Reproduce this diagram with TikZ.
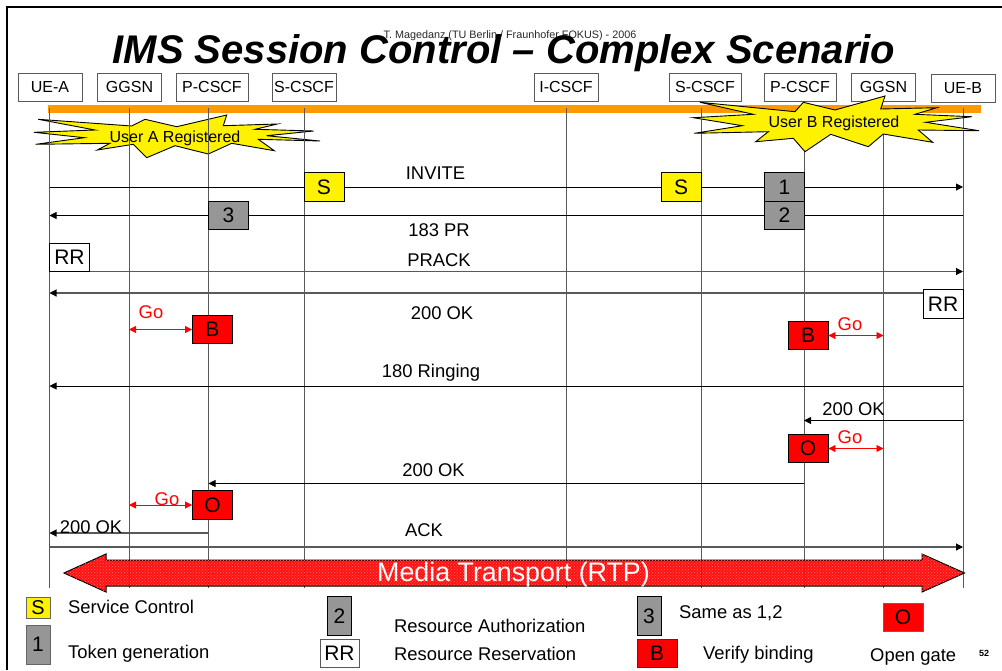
\documentclass[tikz,border=0pt]{standalone}
\usepackage{fontspec}
\setmainfont{Liberation Sans}
\usetikzlibrary{arrows.meta,patterns}
\definecolor{barorange}{RGB}{255,153,0}
\definecolor{boxgray}{RGB}{150,150,150}
\tikzset{
    head/.style={draw=black!65,fill=white,line width=0.9pt,inner sep=0pt,minimum height=28pt,font=\fontsize{16}{18}\selectfont},
    mark box/.style={draw=black,line width=0.9pt,inner sep=0pt,minimum width=40pt,minimum height=28.5pt,font=\fontsize{21}{23}\selectfont},
    sbox/.style={mark box,fill=yellow},
    grayb/.style={mark box,fill=boxgray},
    redb/.style={mark box,fill=red},
    rrb/.style={mark box,fill=white},
    label/.style={inner sep=0pt,yshift=-1pt,font=\fontsize{18.4}{20}\selectfont},
    golabel/.style={label,text=red},
    lifeline/.style={draw=black!65,line width=1pt},
    msg/.style={draw=black,line width=0.9pt,-{Triangle[length=7pt,width=7pt]}},
    plainmsg/.style={draw=black!65,line width=1.1pt,-{Triangle[length=7pt,width=7pt,color=black]}},
    go/.style={draw=red,line width=0.9pt,{Triangle[length=7pt,width=7pt]}-{Triangle[length=7pt,width=7pt]}},
    burst/.style={draw=black,fill=yellow,line width=0.9pt}
}
\begin{document}
\begin{tikzpicture}[x=1pt,y=-1pt]
    \useasboundingbox (0,0) rectangle (1002,670);
    % frame
    \draw[line width=2pt] (7,670) -- (7,7) -- (1002,7);
    \fill[barorange] (48,105) rectangle (981,113);

    % title and footer
    \node[inner sep=0pt,font=\fontsize{10.8}{12}\selectfont,text=black!85] (footer) at (510,35.5) {T. Magedanz (TU Berlin / Fraunhofer FOKUS) - 2006};
    \node[inner sep=0pt,font=\fontsize{40}{42}\selectfont\bfseries\itshape] (title) at (504,53) {IMS Session Control -- Complex Scenario};

    % heads
    \node[head,minimum width=64pt] (hUEA) at (50,87) {UE-A};
    \node[head,minimum width=64pt] (hGGSNA) at (129.5,87) {GGSN};
    \node[head,minimum width=72pt] (hPA) at (212,87) {P-CSCF};
    \node[head,minimum width=64pt] (hSA) at (304,87) {S-CSCF};
    \node[head,minimum width=64pt] (hI) at (566,87) {I-CSCF};
    \node[head,minimum width=72pt] (hSB) at (705,87) {S-CSCF};
    \node[head,minimum width=72pt] (hPB) at (800,87) {P-CSCF};
    \node[head,minimum width=64pt] (hGGSNB) at (883.5,87) {GGSN};
    \node[head,minimum width=64pt] (hUEB) at (963,88.5) {UE-B};

    % burst behind the lifelines
    \filldraw[burst] (38.3,119.3) -- (131.7,126) -- (145,119.3) -- (176.7,126.7) -- (226.7,115) -- (223.3,125.7) -- (277.3,124) -- (255,129.3) -- (313.7,131) -- (266.7,135.7) -- (320,141) -- (258.3,139.3) -- (274.3,150.7) -- (231.7,143.3) -- (208.3,154) -- (175,145.7) -- (146.7,157.7) -- (133.3,144.3) -- (97.3,150) -- (110,143.3) -- (35.7,144.3) -- (84.3,137.7) -- (34,132.3) -- (95,130) -- cycle;
    \node[inner sep=0pt,font=\fontsize{16}{18}\selectfont] (regA) at (175,138) {User A Registered};

    \foreach \n/\x in {ueA/49.5,ggsnA/129,pA/208.5,sA/304,csI/566,sB/701,pB/804,ggsnB/883.5,ueB/963}{
        \coordinate (\n-top) at (\x,108);
        \coordinate (\n-bot) at (\x,588);
        \foreach \r/\y in {inv/187,pr/215.5,prack/271.5,okA/293,ring/386,okB/420.5,okC/483.5,okD/533,ack/547,goA/329.5,goB/335.5,goC/448.5,goD/505}{
            \coordinate (\n-\r) at (\x,\y);
        }
        \draw[lifeline] (\n-top) -- (\n-bot);
    }

    % burst on top of the lifelines
    \filldraw[burst] (700,102.3) -- (795,111.7) -- (803.3,102.3) -- (835,110) -- (885,96) -- (880.7,109) -- (936.7,107.7) -- (915,114.3) -- (971.7,116.7) -- (925.7,122.3) -- (979,130.7) -- (918.3,130) -- (932.7,142.3) -- (883.3,134) -- (868.3,146.7) -- (830.7,134.3) -- (805,151.7) -- (793.3,138.3) -- (755.7,141.7) -- (768.3,131.7) -- (694.3,133.3) -- (742.3,125.7) -- (693.3,117.7) -- (753.3,114.3) -- cycle;
    \node[inner sep=0pt,font=\fontsize{16}{18}\selectfont] (regB) at (834,123.5) {User B Registered};

    % messages
    \draw[msg] (ueA-inv) -- (ueB-inv);
    \draw[msg] (ueB-pr) -- (ueA-pr);
    \draw[plainmsg] (ueA-prack) -- (ueB-prack);
    \draw[plainmsg] (ueB-okA) -- (ueA-okA);
    \draw[msg] (ueB-ring) -- (ueA-ring);
    \draw[msg] (ueB-okB) -- (pB-okB);
    \draw[msg] (pB-okC) -- (pA-okC);
    \draw[plainmsg] (pA-okD) -- (ueA-okD);
    \draw[plainmsg] (ueA-ack) -- (ueB-ack);

    \node[label] (lInv) at (435.5,172.5) {INVITE};
    \node[label] (lPr) at (439,229.5) {183 PR};
    \node[label] (lPrack) at (439,259) {PRACK};
    \node[label] (lOkA) at (442,312.5) {200 OK};
    \node[label] (lRing) at (431,372) {180 Ringing};
    \node[label] (lOkB) at (853.5,408) {200 OK};
    \node[label] (lOkC) at (433.5,469.5) {200 OK};
    \node[label] (lOkD) at (91,526) {200 OK};
    \node[label] (lAck) at (424,529.5) {ACK};

    % boxes on the lines
    \node[sbox] (sL) at (324,187) {S};
    \node[sbox] (sR) at (681,187) {S};
    \node[grayb] (one) at (784.5,187) {1};
    \node[grayb] (two) at (784.5,215.5) {2};
    \node[grayb] (three) at (228.5,215.5) {3};
    \node[rrb] (rrL) at (69.5,257.5) {RR};
    \node[rrb] (rrR) at (943,304) {RR};
    \node[redb] (bL) at (212.5,329.5) {B};
    \node[redb] (bR) at (808,335.5) {B};
    \node[redb] (oR) at (808,448.5) {O};
    \node[redb] (oL) at (212.5,505) {O};

    \draw[go] (ggsnA-goA) -- (bL.west);
    \draw[go] (bR.east) -- (ggsnB-goB);
    \draw[go] (oR.east) -- (ggsnB-goC);
    \draw[go] (ggsnA-goD) -- (oL.west);
    \node[golabel] (goa) at (151,311) {Go};
    \node[golabel] (gob) at (850,323.5) {Go};
    \node[golabel] (goc) at (850,436.5) {Go};
    \node[golabel] (god) at (167,498.5) {Go};

    % media arrow
    \filldraw[draw=black,line width=1pt,fill=red,fill opacity=0.93,postaction={pattern=crosshatch dots,pattern color=red!55!white}] (64,573) -- (106,554) -- (106,560) -- (922,560) -- (922,554) -- (964.5,573) -- (922,592) -- (922,586) -- (106,586) -- (106,592) -- cycle;
    \node[inner sep=0pt,text=white,font=\fontsize{26.8}{28}\selectfont] (media) at (513.5,575) {Media Transport (RTP)};

    % legend
    \node[sbox,minimum width=24pt,minimum height=21pt,draw=black!60,font=\fontsize{20}{22}\selectfont] (legS) at (38,607.5) {S};
    \node[grayb,minimum width=24pt,minimum height=39pt,draw=black!60] (leg1) at (38,644.5) {1};
    \node[grayb,minimum width=24pt,minimum height=39pt] (leg2) at (339.5,616) {2};
    \node[rrb,minimum width=39pt,minimum height=28pt,draw=black!65] (legRR) at (339.5,653) {RR};
    \node[grayb,minimum width=24pt,minimum height=39pt] (leg3) at (649,616) {3};
    \node[redb,minimum height=28pt,draw=black!80] (legB) at (657,653) {B};
    \node[redb,minimum height=28pt,draw=black!60] (legO) at (903,617) {O};
    \node[label,anchor=west] (tS) at (68,605.5) {Service Control};
    \node[label,anchor=west] (tTok) at (68,653) {Token generation};
    \node[label,anchor=west] (tAuth) at (394,625) {Resource Authorization};
    \node[label,anchor=west] (tRes) at (394,653) {Resource Reservation};
    \node[label,anchor=west] (tSame) at (679,612) {Same as 1,2};
    \node[label,anchor=west] (tVer) at (703,654) {Verify binding};
    \node[label,anchor=west] (tOpen) at (870,655.5) {Open gate};
    \node[inner sep=0pt,font=\fontsize{9}{10}\selectfont\bfseries] (page) at (984,653) {52};
\end{tikzpicture}
\end{document}
